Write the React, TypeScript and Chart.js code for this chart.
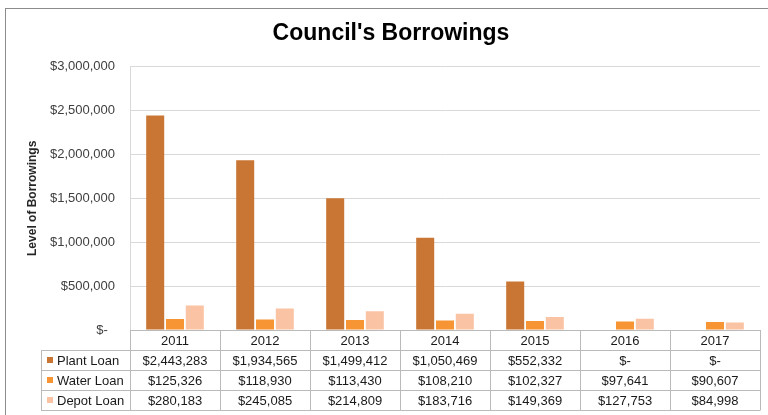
import React, { useEffect, useRef } from "react";
import { Chart, registerables } from "chart.js";

Chart.register(...registerables);

const years = ["2011", "2012", "2013", "2014", "2015", "2016", "2017"];
const plantLoan = [2443283, 1934565, 1499412, 1050469, 552332, 0, 0];
const waterLoan = [125326, 118930, 113430, 108210, 102327, 97641, 90607];
const depotLoan = [280183, 245085, 214809, 183716, 149369, 127753, 84998];
const seriesNames = ["Plant Loan", "Water Loan", "Depot Loan"];
const seriesColors = ["#C97634", "#F79433", "#FAC3A4"];
const chartTitle = "Council's Borrowings";
const yAxisTitle = "Level of Borrowings";
const yMax = 3000000;
const yStep = 500000;

const FONT = "'Liberation Sans', Arial, sans-serif";

function fmtMoney(v: number): string {
  if (v === 0) return "$-";
  return "$" + v.toLocaleString("en-US");
}

const frameAndTable = {
  id: "frameAndTable",
  beforeDraw(chart: any) {
    const ctx = chart.ctx;
    ctx.save();
    ctx.fillStyle = "#FFFFFF";
    ctx.fillRect(0, 0, chart.width, chart.height);
    ctx.strokeStyle = "#8C8C8C";
    ctx.lineWidth = 1;
    ctx.strokeRect(5.5, 8.5, 790, 430);
    ctx.restore();
  },
  afterDraw(chart: any) {
    const ctx = chart.ctx;
    const area = chart.chartArea;
    const xs = chart.scales.x;
    const n = years.length;
    const colW = (area.right - area.left) / n;
    const rowH = 20;
    const top = Math.round(area.bottom);
    const legendLeft = 41;
    const series = chart.data.datasets;
    const rows = series.length;
    const bottom = top + rowH * (rows + 1);

    ctx.save();
    ctx.strokeStyle = "#BABABA";
    ctx.lineWidth = 1;
    ctx.beginPath();
    for (let r = 0; r <= rows + 1; r++) {
      const y = top + r * rowH + 0.5;
      const x0 = r === 0 ? area.left : legendLeft;
      ctx.moveTo(x0, y);
      ctx.lineTo(area.right, y);
    }
    for (let c = 0; c <= n; c++) {
      const x = Math.round(area.left + c * colW) + 0.5;
      ctx.moveTo(x, top);
      ctx.lineTo(x, bottom + 0.5);
    }
    ctx.moveTo(legendLeft + 0.5, top + rowH);
    ctx.lineTo(legendLeft + 0.5, bottom + 0.5);
    ctx.stroke();

    ctx.font = "13px " + FONT;
    ctx.fillStyle = "#1A1A1A";
    ctx.textAlign = "center";
    ctx.textBaseline = "middle";
    for (let i = 0; i < n; i++) {
      const cx = xs.getPixelForValue(i);
      ctx.fillText(chart.data.labels[i], cx, top + rowH / 2 + 1);
      for (let r = 0; r < rows; r++) {
        const v = series[r].data[i] as number;
        ctx.fillText(fmtMoney(v), cx, top + (r + 1) * rowH + rowH / 2 + 1);
      }
    }
    ctx.textAlign = "left";
    for (let r = 0; r < rows; r++) {
      const cy = top + (r + 1) * rowH + rowH / 2;
      ctx.fillStyle = series[r].backgroundColor;
      ctx.fillRect(47, cy - 3, 6, 6);
      ctx.fillStyle = "#1A1A1A";
      ctx.fillText(series[r].label, 57, cy + 1);
    }
    ctx.restore();
  },
};

export default function App() {
  const ref = useRef<HTMLCanvasElement | null>(null);

  useEffect(() => {
    if (!ref.current) return;
    const chart = new Chart(ref.current, {
      type: "bar",
      data: {
        labels: years,
        datasets: [plantLoan, waterLoan, depotLoan].map((d, i) => ({
          label: seriesNames[i],
          data: d,
          backgroundColor: seriesColors[i],
          borderWidth: 0,
          categoryPercentage: 0.66,
          barPercentage: 0.91,
        })),
      },
      options: {
        responsive: false,
        animation: false,
        layout: { padding: { left: 22, right: 8, top: 9, bottom: 85 } },
        plugins: {
          legend: { display: false },
          tooltip: { enabled: false },
          title: {
            display: true,
            text: chartTitle,
            color: "#000000",
            font: { family: FONT, size: 23, weight: "bold" },
            padding: { top: 11, bottom: 19 },
          },
        },
        scales: {
          x: {
            display: false,
          },
          y: {
            min: 0,
            max: yMax,
            afterFit: (scale: any) => {
              scale.width = 130 - 22;
            },
            ticks: {
              stepSize: yStep,
              padding: 15,
              color: "#404040",
              font: { family: FONT, size: 13 },
              callback: (v: any) => (Number(v) === 0 ? "$-  " : fmtMoney(Number(v))),
            },
            grid: { color: "#D9D9D9", lineWidth: 1, drawTicks: false },
            border: { display: true, color: "#D9D9D9" },
            title: {
              display: true,
              text: yAxisTitle,
              color: "#262626",
              font: { family: FONT, size: 12, weight: "bold" },
              padding: { top: 3, bottom: 0 },
            },
          },
        },
      },
      plugins: [frameAndTable],
    });
    return () => chart.destroy();
  }, []);

  return (
    <div style={{ position: "absolute", left: 0, top: 0, width: 768, height: 415 }}>
      <canvas ref={ref} width={768} height={415} />
    </div>
  );
}
